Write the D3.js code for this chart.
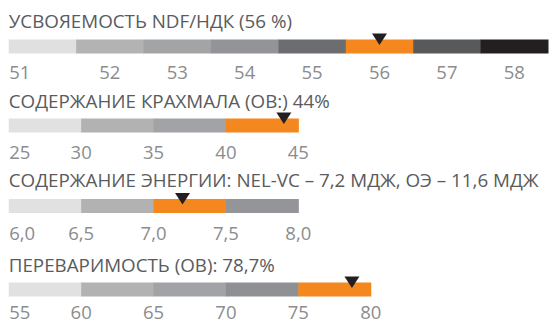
<!DOCTYPE html>
<html>
<head>
<meta charset="utf-8">
<script src="https://cdn.jsdelivr.net/npm/d3@7"></script>
<style>
  html, body { margin: 0; padding: 0; background: #ffffff; }
  svg { display: block; }
</style>
</head>
<body>
<svg id="chart" width="549" height="323"></svg>
<script>
// Gauge 1: NDF digestibility, one band per integer value
const titleNdf = "УСВОЯЕМОСТЬ NDF/НДК (56 %)";
const ndfCategories = [51, 52, 53, 54, 55, 56, 57, 58];
const ndfColors = ["#e0e0e0", "#b3b3b3", "#a2a4a6", "#929497", "#6c6d70", "#f5871f", "#58595b", "#231f20"];
const ndfValue = 56;

// Gauge 2: starch content
const titleStarch = "СОДЕРЖАНИЕ КРАХМАЛА (ОВ:) 44%";
const starchTicks = [25, 30, 35, 40, 45];
const starchColors = ["#e1e1e1", "#b2b2b2", "#a1a3a6", "#f5871f"];
const starchValue = 44;

// Gauge 3: energy content
const titleEnergy = "СОДЕРЖАНИЕ ЭНЕРГИИ: NEL-VC – 7,2 МДЖ, ОЭ – 11,6 МДЖ";
const energyTicks = [6.0, 6.5, 7.0, 7.5, 8.0];
const energyColors = ["#e1e1e1", "#b2b2b2", "#f5871f", "#939598"];
const energyValue = 7.2;

// Gauge 4: organic matter digestibility
const titleDigest = "ПЕРЕВАРИМОСТЬ (ОВ): 78,7%";
const digestTicks = [55, 60, 65, 70, 75, 80];
const digestColors = ["#e1e1e1", "#b2b2b2", "#a1a3a6", "#8e9093", "#f5871f"];
const digestValue = 78.7;

const svg = d3.select("#chart");
const FONT = "'Open Sans', 'Noto Sans', sans-serif";
const left = 8.75;
const step = 72.4;     // width of one band in the linear gauges
const barH = 14;
const titleColor = "#5a5b5d";
const tickColor = "#8b8c8e";
const markerColor = "#231f20";

function drawTitle(g, text, y) {
  g.append("text")
    .attr("x", left)
    .attr("y", y)
    .attr("fill", titleColor)
    .attr("font-family", FONT)
    .attr("font-size", 18.8)
    .text(text);
}

function drawMarker(g, x, barTop) {
  const w = 15, up = 6, down = 5.5;
  g.append("path")
    .attr("d", d3.line()([[x - w / 2, barTop - up], [x + w / 2, barTop - up], [x, barTop + down]]) + "Z")
    .attr("fill", markerColor);
}

function drawTickLabel(g, x, y, text, first) {
  g.append("text")
    .attr("x", first ? left + 0.5 : x)
    .attr("y", y)
    .attr("text-anchor", first ? "start" : "middle")
    .attr("fill", tickColor)
    .attr("font-family", FONT)
    .attr("font-size", 18.5)
    .text(text);
}

// Categorical gauge (one coloured band per value, labels under band centres)
function bandGauge(cfg) {
  const g = svg.append("g");
  drawTitle(g, cfg.title, cfg.titleY);
  const x = d3.scaleBand().domain(cfg.categories).range([left, 548]).padding(0);
  g.selectAll("rect.seg").data(cfg.categories).join("rect")
    .attr("class", "seg")
    .attr("x", d => x(d))
    .attr("y", cfg.barY)
    .attr("width", x.bandwidth() + 0.5)
    .attr("height", barH)
    .attr("fill", (d, i) => cfg.colors[i]);
  cfg.categories.forEach((d, i) => {
    drawTickLabel(g, x(d) + x.bandwidth() / 2, cfg.labelY, String(d), i === 0);
  });
  drawMarker(g, x(cfg.value) + x.bandwidth() / 2, cfg.barY);
}

// Linear gauge (bands between consecutive ticks, labels at the boundaries)
function linearGauge(cfg) {
  const g = svg.append("g");
  drawTitle(g, cfg.title, cfg.titleY);
  const t = cfg.ticks;
  const x = d3.scaleLinear()
    .domain([t[0], t[t.length - 1]])
    .range([left, left + step * (t.length - 1)]);
  const segs = d3.pairs(t);
  g.selectAll("rect.seg").data(segs).join("rect")
    .attr("class", "seg")
    .attr("x", d => x(d[0]))
    .attr("y", cfg.barY)
    .attr("width", d => x(d[1]) - x(d[0]) + 0.5)
    .attr("height", barH)
    .attr("fill", (d, i) => cfg.colors[i]);
  t.forEach((d, i) => {
    drawTickLabel(g, x(d), cfg.labelY, cfg.format(d), i === 0);
  });
  drawMarker(g, x(cfg.value), cfg.barY);
}

const intFmt = d => String(d);
const commaFmt = d => d3.format(".1f")(d).replace(".", ",");

bandGauge({ title: titleNdf, categories: ndfCategories, colors: ndfColors, value: ndfValue,
  titleY: 27.5, barY: 39.5, labelY: 79 });
linearGauge({ title: titleStarch, ticks: starchTicks, colors: starchColors, value: starchValue,
  format: intFmt, titleY: 108, barY: 118.5, labelY: 158.5 });
linearGauge({ title: titleEnergy, ticks: energyTicks, colors: energyColors, value: energyValue,
  format: commaFmt, titleY: 186.5, barY: 199, labelY: 240 });
linearGauge({ title: titleDigest, ticks: digestTicks, colors: digestColors, value: digestValue,
  format: intFmt, titleY: 272, barY: 282.5, labelY: 318.5 });
</script>
</body>
</html>
